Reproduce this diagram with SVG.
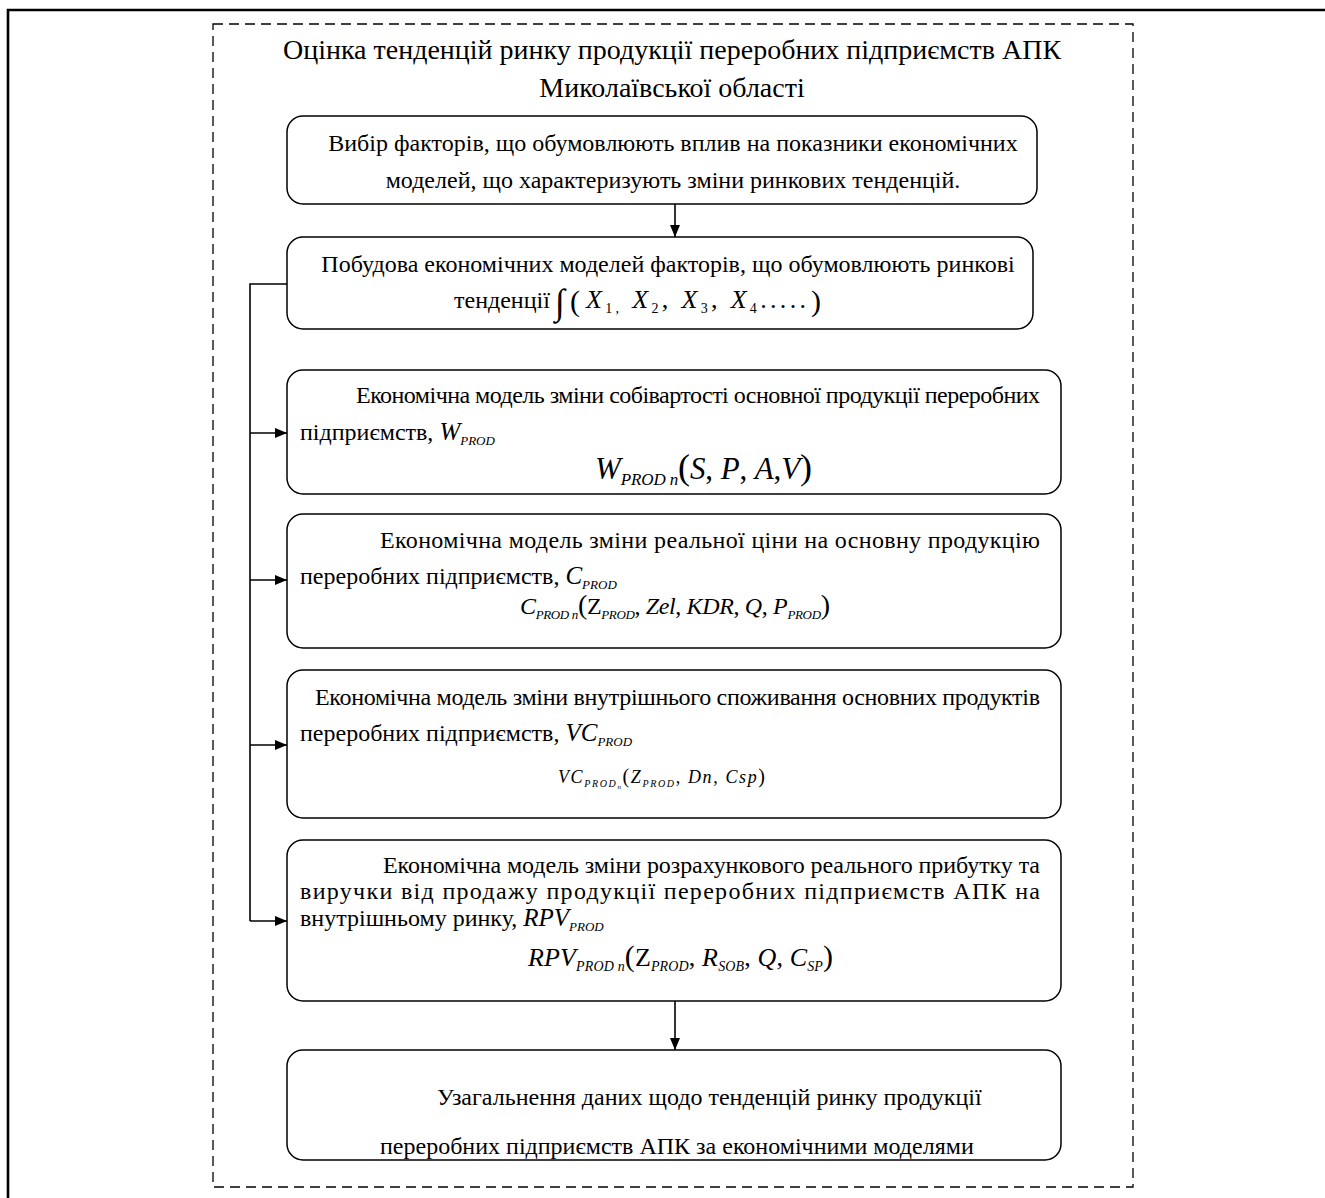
<svg xmlns="http://www.w3.org/2000/svg" width="1325" height="1198" viewBox="0 0 1325 1198">
<style>
text{font-family:"Liberation Serif","Times New Roman",serif;fill:#000}
.t{font-size:24px}
.h{font-size:28px}
.i{font-style:italic}
.n{font-style:normal}
.box{fill:#fff;stroke:#000;stroke-width:1.5}
.ln{stroke:#000;stroke-width:1.6;fill:none}
</style>
<defs>
<marker id="ar" markerWidth="12" markerHeight="10" refX="12" refY="5" orient="auto" markerUnits="userSpaceOnUse">
<path d="M0,0 L12,5 L0,10 Z" fill="#000"/>
</marker>
</defs>
<rect width="1325" height="1198" fill="#fff"/>
<g id="frame">
<path d="M8,1198 V10 H1325" fill="none" stroke="#000" stroke-width="2.6"/>
<rect x="213" y="24" width="920" height="1163" fill="none" stroke="#000" stroke-width="1.3" stroke-dasharray="10,6"/>
<text class="h" x="672" y="59" text-anchor="middle">Оцінка тенденцій ринку продукції переробних підприємств АПК</text>
<text class="h" x="672" y="97" text-anchor="middle">Миколаївської області</text>
</g>
<g id="connectors">
<line class="ln" x1="675" y1="204" x2="675" y2="237" marker-end="url(#ar)"/>
<line class="ln" x1="675" y1="1001" x2="675" y2="1050" marker-end="url(#ar)"/>
<path class="ln" d="M287,284 H250 V921"/>
<line class="ln" x1="250" y1="433" x2="287" y2="433" marker-end="url(#ar)"/>
<line class="ln" x1="250" y1="580" x2="287" y2="580" marker-end="url(#ar)"/>
<line class="ln" x1="250" y1="745" x2="287" y2="745" marker-end="url(#ar)"/>
<line class="ln" x1="250" y1="921" x2="287" y2="921" marker-end="url(#ar)"/>
</g>
<g id="n1">
<rect class="box" x="287" y="116" width="750" height="88" rx="16"/>
<text class="t" x="673" y="151" text-anchor="middle">Вибір факторів, що обумовлюють вплив на показники економічних</text>
<text class="t" x="673" y="188" text-anchor="middle">моделей, що характеризують зміни ринкових тенденцій.</text>
</g>
<g id="n2">
<rect class="box" x="287" y="237" width="746" height="92" rx="16"/>
<text class="t" x="668" y="272" text-anchor="middle">Побудова економічних моделей факторів, що обумовлюють ринкові</text>
<text class="t" x="454" y="308">тенденції</text>
<text x="555" y="314" class="i" style="font-size:36px">∫</text>
<text x="570" y="311" style="font-size:30px">(</text>
<text x="586" y="308" class="i" style="font-size:26px" textLength="220" lengthAdjust="spacing">X<tspan dy="5" class="n" style="font-size:14px">1,</tspan><tspan dy="-5"> X</tspan><tspan dy="5" class="n" style="font-size:14px">2</tspan><tspan dy="-5" class="n">, </tspan>X<tspan dy="5" class="n" style="font-size:14px">3</tspan><tspan dy="-5" class="n">, </tspan>X<tspan dy="5" class="n" style="font-size:14px">4</tspan><tspan dy="-5" class="n">.....</tspan></text>
<text x="811" y="311" style="font-size:30px">)</text>
</g>
<g id="n3">
<rect class="box" x="287" y="370" width="774" height="124" rx="16"/>
<text class="t" x="356" y="403" textLength="684" lengthAdjust="spacing">Економічна модель зміни собівартості основної продукції переробних</text>
<text class="t" x="300" y="440">підприємств, <tspan class="i" style="font-size:25px">W</tspan><tspan class="i" dy="5" style="font-size:13px">PROD</tspan></text>
<text x="595" y="479" class="i" style="font-size:31px" textLength="217" lengthAdjust="spacing">W<tspan dy="6" style="font-size:17px">PROD n</tspan><tspan dy="-6" class="n" style="font-size:36px">(</tspan>S<tspan class="n">, </tspan>P<tspan class="n">, </tspan>A<tspan class="n">,</tspan>V<tspan class="n" style="font-size:36px">)</tspan></text>
</g>
<g id="n4">
<rect class="box" x="287" y="514" width="774" height="134" rx="16"/>
<text class="t" x="380" y="548" textLength="660" lengthAdjust="spacing">Економічна модель зміни реальної ціни на основну продукцію</text>
<text class="t" x="300" y="584">переробних підприємств, <tspan class="i" style="font-size:25px">C</tspan><tspan class="i" dy="5" style="font-size:13px">PROD</tspan></text>
<text x="520" y="614" class="i" style="font-size:24px" textLength="310" lengthAdjust="spacing">C<tspan dy="5" style="font-size:13px">PROD n</tspan><tspan dy="-5" class="n" style="font-size:28px">(</tspan><tspan class="n">Z</tspan><tspan dy="5" style="font-size:13px">PROD</tspan><tspan dy="-5" class="n">, </tspan>Zel<tspan class="n">, </tspan>KDR<tspan class="n">, </tspan>Q<tspan class="n">, </tspan>P<tspan dy="5" style="font-size:13px">PROD</tspan><tspan dy="-5" class="n" style="font-size:28px">)</tspan></text>
</g>
<g id="n5">
<rect class="box" x="287" y="670" width="774" height="148" rx="16"/>
<text class="t" x="315" y="705" textLength="725" lengthAdjust="spacing">Економічна модель зміни внутрішнього споживання основних продуктів</text>
<text class="t" x="300" y="741">переробних підприємств, <tspan class="i" style="font-size:25px">VC</tspan><tspan class="i" dy="5" style="font-size:13px">PROD</tspan></text>
<text x="558" y="783" class="i" style="font-size:18px" textLength="207" lengthAdjust="spacing">VC<tspan dy="4" style="font-size:10px">PROD<tspan dy="2" style="font-size:7px">n</tspan></tspan><tspan dy="-6" class="n" style="font-size:20px">(</tspan>Z<tspan dy="4" style="font-size:10px">PROD</tspan><tspan dy="-4" class="n">, </tspan>Dn<tspan class="n">, </tspan>Csp<tspan class="n" style="font-size:20px">)</tspan></text>
</g>
<g id="n6">
<rect class="box" x="287" y="840" width="774" height="161" rx="16"/>
<text class="t" x="383" y="873" textLength="657" lengthAdjust="spacing">Економічна модель зміни розрахункового реального прибутку та</text>
<text class="t" x="300" y="899" textLength="740" lengthAdjust="spacing">виручки від продажу продукції переробних підприємств АПК на</text>
<text class="t" x="300" y="926">внутрішньому ринку, <tspan class="i" style="font-size:25px">RPV</tspan><tspan class="i" dy="5" style="font-size:13px">PROD</tspan></text>
<text x="528" y="966" class="i" style="font-size:26px" textLength="305" lengthAdjust="spacing">RPV<tspan dy="5" style="font-size:14px">PROD n</tspan><tspan dy="-5" class="n" style="font-size:30px">(</tspan><tspan class="n">Z</tspan><tspan dy="5" style="font-size:14px">PROD</tspan><tspan dy="-5" class="n">, </tspan>R<tspan dy="5" style="font-size:14px">SOB</tspan><tspan dy="-5" class="n">, </tspan>Q<tspan class="n">, </tspan>C<tspan dy="5" style="font-size:14px">SP</tspan><tspan dy="-5" class="n" style="font-size:30px">)</tspan></text>
</g>
<g id="n7">
<rect class="box" x="287" y="1050" width="774" height="110" rx="16"/>
<text class="t" x="437" y="1105">Узагальнення даних щодо тенденцій ринку продукції</text>
<text class="t" x="380" y="1154">переробних підприємств АПК за економічними моделями</text>
</g>
</svg>
